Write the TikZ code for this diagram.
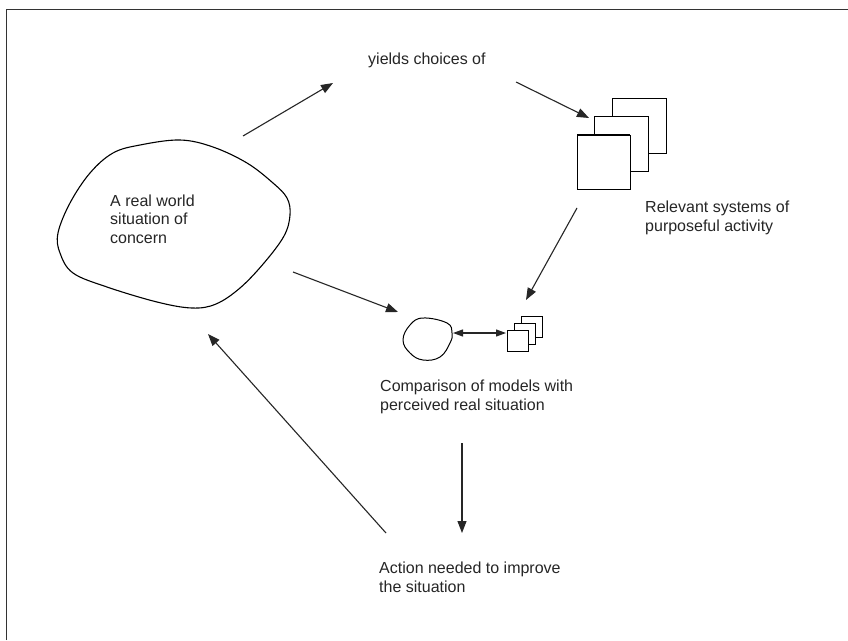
\documentclass[tikz,border=0pt]{standalone}
\usepackage{fontspec}
\setmainfont{Liberation Sans}
\usetikzlibrary{arrows.meta}
\begin{document}
\begin{tikzpicture}[x=1pt,y=-1pt,
  line/.style={line width=1.1pt, draw=black!85},
  arr/.style={line, -{Triangle[length=12pt,width=9pt]}},
  darr/.style={line, {Triangle[length=10pt,width=7pt]}-{Triangle[length=10pt,width=7pt]}},
  lbl/.style={anchor=base west, inner sep=0pt, align=left, text=black!85,
    font=\fontsize{16}{18.5}\selectfont},
  sq/.style={draw=black, line width=1pt, fill=white}]
\useasboundingbox (0,0) rectangle (848,640);
\fill[white] (0,0) rectangle (848,640);
% frame
\draw[line width=1pt, black!80] (6,640) -- (6,9) -- (848,9);
% big blob
\draw[line width=1.1pt] plot[smooth cycle, tension=0.6] coordinates {
 (140,145) (180,140) (213,147) (247,163) (273,183) (287,198) (290,215)
 (284,236) (264,263) (240,288) (216,304) (192,308) (157,302) (107,287)
 (73,273) (60,253) (58,233) (70,203) (90,173) (113,153)};
\node[lbl] (real) at (110,243) {A real world\\situation of\\concern};
% small blob
\draw[line width=1pt] plot[smooth cycle, tension=0.7] coordinates {
 (423,318) (447,323) (452,333) (450,343) (440,357) (423,360) (410,353) (403,340) (410,325)};
% big stacked squares
\draw[sq] (612,98) rectangle (666,153);
\draw[sq] (594,116) rectangle (648,171);
\draw[sq] (577,135) rectangle (630,189);
\draw[line width=1.6pt] (577,135) -- (630,135);
% small stacked squares
\draw[sq, line width=0.8pt] (521,316) rectangle (542,337);
\draw[sq, line width=0.8pt] (514,323) rectangle (535,344);
\draw[sq, line width=0.8pt] (507,330) rectangle (528,351);
% labels
\node[lbl] (yields) at (368,64) {yields choices of};
\node[lbl] (relevant) at (645,231) {Relevant systems of\\purposeful activity};
\node[lbl] (comparison) at (380,410) {Comparison of models with\\perceived real situation};
\node[lbl] (action) at (379,592) {Action needed to improve\\the situation};
% connector end points
\coordinate (a1s) at (243,136); \coordinate (a1e) at (333,83);
\coordinate (a2s) at (516,82);  \coordinate (a2e) at (589,118);
\coordinate (a3s) at (577,208); \coordinate (a3e) at (526,300);
\coordinate (a4s) at (293,272); \coordinate (a4e) at (398,312);
\coordinate (a5s) at (453,333); \coordinate (a5e) at (506,333);
\coordinate (a6s) at (462,443); \coordinate (a6e) at (462,533);
\coordinate (a7s) at (386,533); \coordinate (a7e) at (208,334);
\draw[arr] (a1s) -- (a1e);
\draw[arr] (a2s) -- (a2e);
\draw[arr] (a3s) -- (a3e);
\draw[arr] (a4s) -- (a4e);
\draw[darr] (a5s) -- (a5e);
\draw[arr] (a6s) -- (a6e);
\draw[arr] (a7s) -- (a7e);
\end{tikzpicture}
\end{document}
